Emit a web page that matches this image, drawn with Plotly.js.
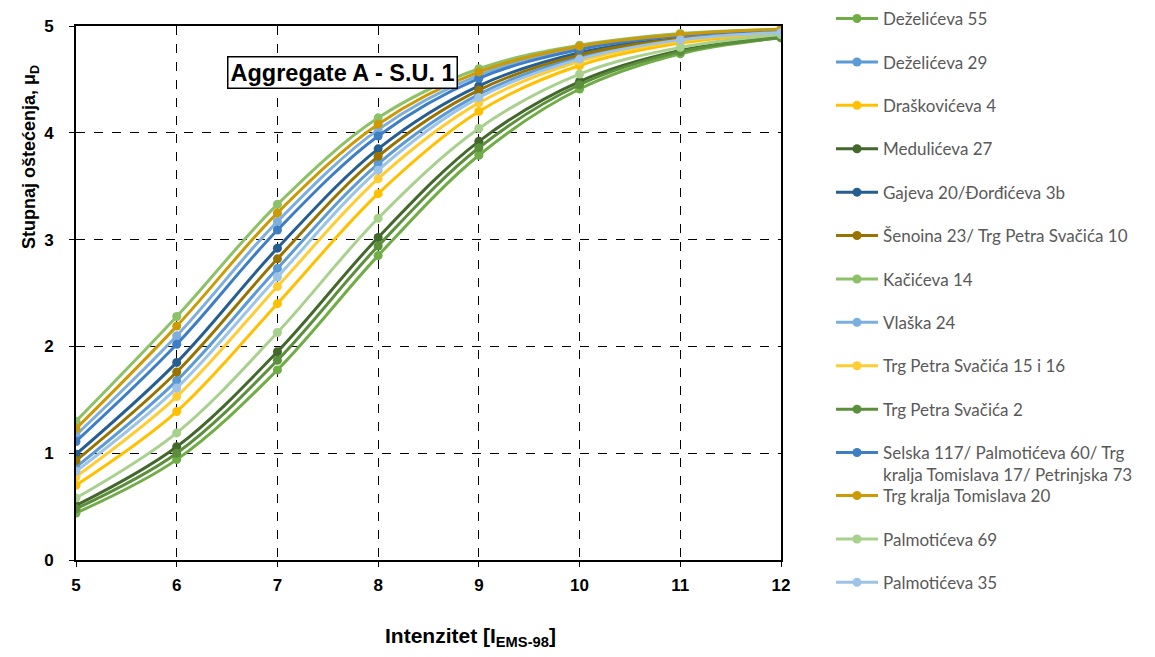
<!DOCTYPE html>
<html>
<head>
<meta charset="utf-8">
<script src="https://cdn.plot.ly/plotly-3.0.1.min.js"></script>
<style>html,body{margin:0;padding:0;background:#fff;}#chart{width:1155px;height:657px;}</style>
</head>
<body>
<div id="chart"></div>
<script>
const intensity = [5, 6, 7, 8, 9, 10, 11, 12];
const seriesNames = [
  "Deželićeva 55",
  "Deželićeva 29",
  "Draškovićeva 4",
  "Medulićeva 27",
  "Gajeva 20/Đorđićeva 3b",
  "Šenoina 23/ Trg Petra Svačića 10",
  "Kačićeva 14",
  "Vlaška 24",
  "Trg Petra Svačića 15 i 16",
  "Trg Petra Svačića 2",
  "Selska 117/ Palmotićeva 60/ Trg<br>kralja Tomislava 17/ Petrinjska 73",
  "Trg kralja Tomislava 20",
  "Palmotićeva 69",
  "Palmotićeva 35"
];
const dezeliceva55   = [0.44, 0.94, 1.78, 2.85, 3.79, 4.41, 4.74, 4.89];
const dezeliceva29   = [0.87, 1.68, 2.73, 3.71, 4.36, 4.71, 4.88, 4.95];
const draskoviceva4  = [0.70, 1.39, 2.40, 3.43, 4.20, 4.63, 4.84, 4.93];
const meduliceva27   = [0.51, 1.06, 1.95, 3.02, 3.92, 4.48, 4.77, 4.90];
const gajeva20       = [0.99, 1.85, 2.92, 3.85, 4.44, 4.75, 4.89, 4.95];
const senoina23      = [0.93, 1.76, 2.82, 3.78, 4.40, 4.73, 4.88, 4.95];
const kaciceva14     = [1.30, 2.28, 3.33, 4.14, 4.60, 4.82, 4.93, 4.97];
const vlaska24       = [1.17, 2.10, 3.17, 4.03, 4.54, 4.80, 4.91, 4.96];
const tps15i16       = [0.78, 1.53, 2.56, 3.57, 4.28, 4.67, 4.86, 4.94];
const tps2           = [0.48, 1.00, 1.87, 2.94, 3.86, 4.45, 4.76, 4.89];
const selska117      = [1.11, 2.02, 3.09, 3.97, 4.51, 4.78, 4.91, 4.96];
const tkt20          = [1.23, 2.19, 3.25, 4.08, 4.57, 4.81, 4.92, 4.97];
const palmoticeva69  = [0.58, 1.19, 2.13, 3.20, 4.04, 4.55, 4.80, 4.92];
const palmoticeva35  = [0.83, 1.61, 2.65, 3.65, 4.33, 4.69, 4.87, 4.94];
const seriesValues = [dezeliceva55, dezeliceva29, draskoviceva4, meduliceva27, gajeva20, senoina23,
  kaciceva14, vlaska24, tps15i16, tps2, selska117, tkt20, palmoticeva69, palmoticeva35];
const seriesColors = ["#70AD47", "#5B9BD5", "#FFC000", "#43682B", "#255E91", "#997300",
  "#8CC168", "#7CAFDD", "#FFCD33", "#5B8F3C", "#3D7EC4", "#CC9A06", "#A9D18E", "#9DC3E6"];
const legendOf = i => (i < 10 ? "legend" : (i === 10 ? "legend2" : "legend3"));

const traces = seriesNames.map((name, i) => ({
  x: intensity,
  y: seriesValues[i],
  name: name,
  type: "scatter",
  mode: "lines+markers",
  line: {color: seriesColors[i], width: 3, shape: "spline", smoothing: 1},
  marker: {color: seriesColors[i], size: 9},
  legend: legendOf(i),
  legendgroup: "g" + i,
  hoverinfo: "x+y+name"
}));

const arial = "'Liberation Sans', Arial, sans-serif";
const legendFont = {family: "Lato, 'Open Sans', sans-serif", size: 17, color: "#595959"};
const legendBase = {
  xref: "container", yref: "container", xanchor: "left", yanchor: "top",
  font: legendFont, bgcolor: "rgba(0,0,0,0)", borderwidth: 0,
  traceorder: "grouped", tracegroupgap: 18.3, itemwidth: 42, maxheight: 700
};

const layout = {
  width: 1155, height: 657,
  paper_bgcolor: "#ffffff", plot_bgcolor: "#ffffff",
  margin: {l: 76, r: 374, t: 26, b: 97},
  showlegend: true,
  legend: Object.assign({}, legendBase, {x: 831 / 1155, y: 1 - 1 / 657}),
  legend2: Object.assign({}, legendBase, {x: 831 / 1155, y: 1 - 435 / 657, valign: "top"}),
  legend3: Object.assign({}, legendBase, {x: 831 / 1155, y: 1 - 478 / 657}),
  xaxis: {
    range: [5, 12], dtick: 1, tick0: 5,
    showgrid: true, gridcolor: "#000000", gridwidth: 1, griddash: "dash",
    showline: true, linecolor: "#000000", linewidth: 2, mirror: true,
    ticks: "outside", ticklen: 5, tickcolor: "#000000", ticklabelstandoff: 4,
    zeroline: false,
    tickfont: {family: arial, size: 17, color: "#000000", weight: "bold"}
  },
  yaxis: {
    range: [0, 5], dtick: 1, tick0: 0,
    showgrid: true, gridcolor: "#000000", gridwidth: 1, griddash: "dash",
    showline: true, linecolor: "#000000", linewidth: 2, mirror: true,
    ticks: "outside", ticklen: 5, tickcolor: "#000000", ticklabelstandoff: 12,
    zeroline: false,
    tickfont: {family: arial, size: 17, color: "#000000", weight: "bold"}
  },
  annotations: [
    {
      xref: "paper", yref: "paper",
      x: (342 - 76) / 705, y: (560 - 72) / 534,
      xanchor: "center", yanchor: "middle",
      text: "Aggregate A - S.U. 1",
      showarrow: false,
      font: {family: arial, size: 23.5, color: "#000000", weight: "bold"},
      bgcolor: "#ffffff", bordercolor: "#000000", borderwidth: 1.5, borderpad: 2
    },
    {
      xref: "paper", yref: "paper",
      x: (470 - 76) / 705, y: (560 - 637) / 534,
      xanchor: "center", yanchor: "middle",
      text: "Intenzitet [I<sub>EMS-98</sub>]",
      showarrow: false,
      font: {family: arial, size: 21, color: "#000000", weight: "bold"}
    },
    {
      xref: "paper", yref: "paper",
      x: (30 - 76) / 705, y: (560 - 157) / 534,
      xanchor: "center", yanchor: "middle", textangle: -90,
      text: "Stupnaj oštećenja, μ<sub>D</sub>",
      showarrow: false,
      font: {family: arial, size: 18, color: "#000000", weight: "bold"}
    }
  ]
};

Plotly.newPlot("chart", traces, layout, {displayModeBar: false, responsive: false});
</script>
</body>
</html>
